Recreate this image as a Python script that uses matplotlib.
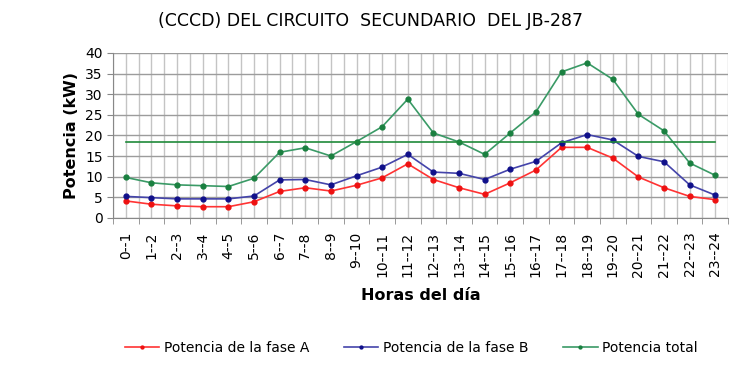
import matplotlib
matplotlib.use("Agg")
import matplotlib.pyplot as plt
from matplotlib.ticker import MultipleLocator

# Horas del dia
horas = [f"{h}--{h + 1}" for h in range(24)]

fase_a = [4.1, 3.3, 2.9, 2.7, 2.7, 3.9, 6.4, 7.3, 6.5, 7.9, 9.7, 13.1,
          9.3, 7.3, 5.7, 8.5, 11.6, 17.1, 17.1, 14.5, 9.9, 7.3, 5.2, 4.4]
fase_b = [5.2, 4.9, 4.6, 4.6, 4.6, 5.3, 9.2, 9.3, 8.0, 10.2, 12.3, 15.4,
          11.1, 10.8, 9.3, 11.8, 13.7, 18.2, 20.2, 18.9, 14.9, 13.6, 8.0, 5.5]
total = [9.8, 8.5, 8.0, 7.8, 7.6, 9.6, 15.9, 17.0, 15.0, 18.5, 22.1, 28.8,
         20.6, 18.4, 15.4, 20.6, 25.7, 35.4, 37.6, 33.6, 25.1, 21.1, 13.3, 10.3]
promedio = [18.5] * 24

fig = plt.figure(figsize=(7.34, 3.73), dpi=100)
ax = fig.add_axes([0.154, 0.416, 0.838, 0.442])

x = list(range(24))
ax.plot(x, fase_a, color="#ff3333", lw=1.2, marker="o", ms=3.5,
        mfc="#ee1111", mec="#ee1111", label="Potencia de la fase A")
ax.plot(x, fase_b, color="#4444aa", lw=1.2, marker="o", ms=3.5,
        mfc="#10108a", mec="#10108a", label="Potencia de la fase B")
ax.plot(x, total, color="#3a9a66", lw=1.2, marker="o", ms=3.5,
        mfc="#1a8040", mec="#1a8040", label="Potencia total")
ax.plot(x, promedio, color="#1f8a3a", lw=1.2)

ax.set_xlim(-0.5, 23.5)
ax.set_ylim(0, 40)
ax.yaxis.set_major_locator(MultipleLocator(5))

# grid at category centres and boundaries
ax.set_xticks(x)
ax.set_xticklabels(horas, rotation=90, fontsize=10)
ax.set_xticks([i - 0.5 for i in range(25)], minor=True)
ax.grid(True, which="both", axis="x", color="#c4c4c4", lw=1)
ax.grid(True, which="major", axis="y", color="#9c9c9c", lw=1)
ax.tick_params(axis="x", which="major", length=0, pad=10)
ax.tick_params(axis="x", which="minor", length=4, color="#888888")
ax.tick_params(axis="y", labelsize=10, length=4, color="#888888")
ax.set_axisbelow(True)

for s in ["top", "right"]:
    ax.spines[s].set_visible(False)
ax.spines["left"].set_color("#888888")
ax.spines["bottom"].set_color("#888888")

ax.set_ylabel("Potencia (kW)", fontsize=11.5, fontweight="bold")
ax.set_xlabel("Horas del día", fontsize=11.5, fontweight="bold", labelpad=8)
fig.text(0.505, 0.945, "(CCCD) DEL CIRCUITO  SECUNDARIO  DEL JB-287",
         ha="center", va="center", fontsize=12.5, fontweight="medium")

fig.legend(loc="center", bbox_to_anchor=(0.56, 0.067), ncol=3, frameon=False,
           fontsize=10, handlelength=2.5, columnspacing=2.5, handletextpad=0.3,
           markerscale=0.6)

fig.savefig("out.png", dpi=100)
